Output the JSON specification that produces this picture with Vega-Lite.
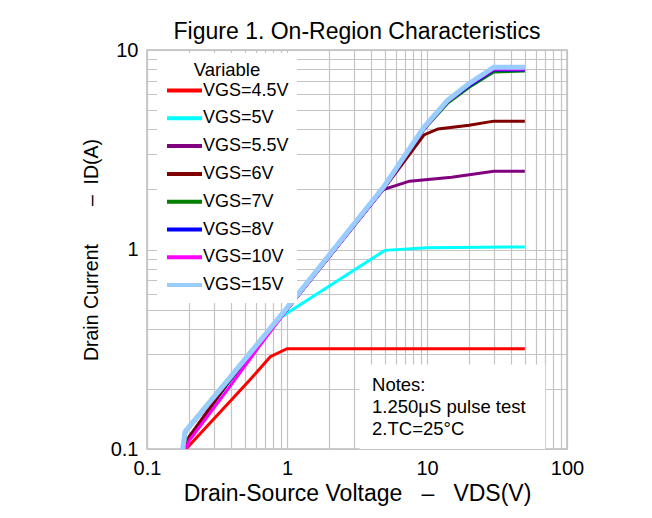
{
  "$schema": "https://vega.github.io/schema/vega-lite/v6.json",
  "width": 420,
  "height": 399,
  "autosize": {"type": "none"},
  "padding": {"left": 147, "top": 50, "right": 85, "bottom": 69},
  "background": "white",
  "title": {"text": "Figure 1. On-Region Characteristics", "fontSize": 23, "fontWeight": "normal", "font": "Liberation Sans", "color": "#000000", "offset": -4},
  "config": {
    "font": "Liberation Sans",
    "view": {"stroke": "#bdbdbd", "strokeWidth": 1.5}
  },
  "datasets": {
    "curves": [
      {"s": "VGS=4.5V", "o": 1, "v": 0.19, "i": 0.1},
      {"s": "VGS=4.5V", "o": 1, "v": 0.54, "i": 0.221},
      {"s": "VGS=4.5V", "o": 1, "v": 0.76, "i": 0.29},
      {"s": "VGS=4.5V", "o": 1, "v": 1.0, "i": 0.318},
      {"s": "VGS=4.5V", "o": 1, "v": 50, "i": 0.318},

      {"s": "VGS=5V", "o": 2, "v": 0.19, "i": 0.1},
      {"s": "VGS=5V", "o": 2, "v": 0.205, "i": 0.118},
      {"s": "VGS=5V", "o": 2, "v": 0.38, "i": 0.212},
      {"s": "VGS=5V", "o": 2, "v": 0.9, "i": 0.455},
      {"s": "VGS=5V", "o": 2, "v": 1.05, "i": 0.49},
      {"s": "VGS=5V", "o": 2, "v": 5, "i": 0.99},
      {"s": "VGS=5V", "o": 2, "v": 10, "i": 1.02},
      {"s": "VGS=5V", "o": 2, "v": 50, "i": 1.03},

      {"s": "VGS=5.5V", "o": 3, "v": 0.19, "i": 0.1},
      {"s": "VGS=5.5V", "o": 3, "v": 0.2, "i": 0.115},
      {"s": "VGS=5.5V", "o": 3, "v": 0.38, "i": 0.215},
      {"s": "VGS=5.5V", "o": 3, "v": 1, "i": 0.5},
      {"s": "VGS=5.5V", "o": 3, "v": 4.7, "i": 1.98},
      {"s": "VGS=5.5V", "o": 3, "v": 7.5, "i": 2.2},
      {"s": "VGS=5.5V", "o": 3, "v": 15, "i": 2.3},
      {"s": "VGS=5.5V", "o": 3, "v": 30, "i": 2.47},
      {"s": "VGS=5.5V", "o": 3, "v": 50, "i": 2.47},

      {"s": "VGS=6V", "o": 4, "v": 0.19, "i": 0.1},
      {"s": "VGS=6V", "o": 4, "v": 0.2, "i": 0.115},
      {"s": "VGS=6V", "o": 4, "v": 0.38, "i": 0.215},
      {"s": "VGS=6V", "o": 4, "v": 1, "i": 0.5},
      {"s": "VGS=6V", "o": 4, "v": 5, "i": 2.05},
      {"s": "VGS=6V", "o": 4, "v": 9.5, "i": 3.75},
      {"s": "VGS=6V", "o": 4, "v": 12, "i": 4.02},
      {"s": "VGS=6V", "o": 4, "v": 20, "i": 4.2},
      {"s": "VGS=6V", "o": 4, "v": 30, "i": 4.4},
      {"s": "VGS=6V", "o": 4, "v": 50, "i": 4.4},

      {"s": "VGS=7V", "o": 5, "v": 0.185, "i": 0.1},
      {"s": "VGS=7V", "o": 5, "v": 0.19, "i": 0.125},
      {"s": "VGS=7V", "o": 5, "v": 0.38, "i": 0.225},
      {"s": "VGS=7V", "o": 5, "v": 1, "i": 0.51},
      {"s": "VGS=7V", "o": 5, "v": 5, "i": 2.06},
      {"s": "VGS=7V", "o": 5, "v": 9.5, "i": 4.0},
      {"s": "VGS=7V", "o": 5, "v": 14, "i": 5.4},
      {"s": "VGS=7V", "o": 5, "v": 20, "i": 6.5},
      {"s": "VGS=7V", "o": 5, "v": 30, "i": 7.75},
      {"s": "VGS=7V", "o": 5, "v": 50, "i": 7.85},

      {"s": "VGS=8V", "o": 6, "v": 0.18, "i": 0.1},
      {"s": "VGS=8V", "o": 6, "v": 0.185, "i": 0.12},
      {"s": "VGS=8V", "o": 6, "v": 0.38, "i": 0.218},
      {"s": "VGS=8V", "o": 6, "v": 1, "i": 0.5},
      {"s": "VGS=8V", "o": 6, "v": 5, "i": 2.05},
      {"s": "VGS=8V", "o": 6, "v": 9.5, "i": 4.0},
      {"s": "VGS=8V", "o": 6, "v": 14, "i": 5.5},
      {"s": "VGS=8V", "o": 6, "v": 20, "i": 6.6},
      {"s": "VGS=8V", "o": 6, "v": 30, "i": 7.95},
      {"s": "VGS=8V", "o": 6, "v": 50, "i": 7.95},

      {"s": "VGS=10V", "o": 7, "v": 0.19, "i": 0.1},
      {"s": "VGS=10V", "o": 7, "v": 0.2, "i": 0.11},
      {"s": "VGS=10V", "o": 7, "v": 0.38, "i": 0.2},
      {"s": "VGS=10V", "o": 7, "v": 0.6, "i": 0.31},
      {"s": "VGS=10V", "o": 7, "v": 1, "i": 0.5},
      {"s": "VGS=10V", "o": 7, "v": 5, "i": 2.06},
      {"s": "VGS=10V", "o": 7, "v": 9.5, "i": 4.02},
      {"s": "VGS=10V", "o": 7, "v": 14, "i": 5.5},
      {"s": "VGS=10V", "o": 7, "v": 20, "i": 6.7},
      {"s": "VGS=10V", "o": 7, "v": 30, "i": 8.0},
      {"s": "VGS=10V", "o": 7, "v": 50, "i": 8.0},

      {"s": "VGS=15V", "o": 8, "v": 0.18, "i": 0.1},
      {"s": "VGS=15V", "o": 8, "v": 0.187, "i": 0.122},
      {"s": "VGS=15V", "o": 8, "v": 0.38, "i": 0.222},
      {"s": "VGS=15V", "o": 8, "v": 1, "i": 0.51},
      {"s": "VGS=15V", "o": 8, "v": 5, "i": 2.1},
      {"s": "VGS=15V", "o": 8, "v": 9.5, "i": 4.1},
      {"s": "VGS=15V", "o": 8, "v": 14, "i": 5.6},
      {"s": "VGS=15V", "o": 8, "v": 20, "i": 6.8},
      {"s": "VGS=15V", "o": 8, "v": 30, "i": 8.2},
      {"s": "VGS=15V", "o": 8, "v": 50, "i": 8.2}
    ],
    "notesBox": [{"x1": 3.3, "x2": 70, "y1": 0.1, "y2": 0.265}],
    "notes": [
      {"t": "Notes:", "x": 4.05, "y": 0.195},
      {"t": "1.250μS pulse test", "x": 4.05, "y": 0.151},
      {"t": "2.TC=25°C", "x": 4.05, "y": 0.1175}
    ]
  },
  "layer": [
    {
      "data": {"name": "curves"},
      "mark": {"type": "line", "clip": true},
      "encoding": {
        "x": {
          "field": "v", "type": "quantitative",
          "scale": {"type": "log", "domain": [0.1, 100], "nice": false},
          "axis": {
            "title": "Drain-Source Voltage\u00a0\u00a0\u00a0–\u00a0\u00a0\u00a0VDS(V)",
            "values": [0.1,0.2,0.3,0.4,0.5,0.6,0.7,0.8,0.9,1,2,3,4,5,6,7,8,9,10,20,30,40,50,60,70,80,90,100],
            "format": "~g",
            "labelExpr": "(datum.value == 0.1 || datum.value == 1 || datum.value == 10 || datum.value == 100) ? datum.label : ''",
            "labelFlush": false, "labelOverlap": false,
            "ticks": false, "domain": false,
            "grid": true, "gridColor": "#c4c4c4", "gridWidth": 1.2,
            "labelFontSize": 20, "labelColor": "#000000", "labelPadding": 9,
            "titleFontSize": 23, "titleFontWeight": "normal", "titleColor": "#000000", "titlePadding": 4
          }
        },
        "y": {
          "field": "i", "type": "quantitative",
          "scale": {"type": "log", "domain": [0.1, 10], "nice": false},
          "axis": {
            "title": "Drain Current\u00a0\u00a0\u00a0\u00a0\u00a0\u00a0\u00a0–\u00a0\u00a0ID(A)",
            "values": [0.1,0.2,0.3,0.4,0.5,0.6,0.7,0.8,0.9,1,2,3,4,5,6,7,8,9,10],
            "format": "~g",
            "labelExpr": "(datum.value == 0.1 || datum.value == 1 || datum.value == 10) ? datum.label : ''",
            "labelFlush": false, "labelOverlap": false,
            "ticks": false, "domain": false,
            "grid": true, "gridColor": "#c4c4c4", "gridWidth": 1.2,
            "labelFontSize": 20, "labelColor": "#000000", "labelPadding": 9,
            "titleFontSize": 19.5, "titleFontWeight": "normal", "titleColor": "#000000", "titlePadding": 9
          }
        },
        "color": {
          "field": "s", "type": "nominal",
          "sort": ["VGS=4.5V","VGS=5V","VGS=5.5V","VGS=6V","VGS=7V","VGS=8V","VGS=10V","VGS=15V"],
          "scale": {
            "domain": ["VGS=4.5V","VGS=5V","VGS=5.5V","VGS=6V","VGS=7V","VGS=8V","VGS=10V","VGS=15V"],
            "range": ["#ff0000","#00ffff","#800080","#800000","#008000","#0000ff","#ff00ff","#99ccff"]
          },
          "legend": {
            "title": "Variable",
            "orient": "none", "legendX": 10, "legendY": 3,
            "fillColor": "white", "padding": 8,
            "titleFontSize": 18.5, "titleFontWeight": "normal", "titleColor": "#000000", "titleAnchor": "middle", "titlePadding": -1,
            "labelFontSize": 18, "labelColor": "#000000", "labelOffset": 14,
            "symbolType": "M-1,0L2.5,0", "symbolSize": 400, "symbolStrokeWidth": 4,
            "rowPadding": 6.8
          }
        },
        "strokeWidth": {
          "condition": {"test": "datum.s == 'VGS=15V'", "value": 5},
          "value": 3
        },
        "order": {"field": "o", "type": "quantitative"},
        "detail": {"field": "s", "type": "nominal"}
      }
    },
    {
      "data": {"name": "notesBox"},
      "mark": {"type": "rect", "fill": "white", "stroke": null},
      "encoding": {
        "x": {"field": "x1", "type": "quantitative"},
        "x2": {"field": "x2"},
        "y": {"field": "y1", "type": "quantitative"},
        "y2": {"field": "y2"}
      }
    },
    {
      "data": {"name": "notes"},
      "mark": {"type": "text", "align": "left", "baseline": "alphabetic", "fontSize": 18.5, "color": "#000000"},
      "encoding": {
        "x": {"field": "x", "type": "quantitative"},
        "y": {"field": "y", "type": "quantitative"},
        "text": {"field": "t"}
      }
    }
  ]
}
